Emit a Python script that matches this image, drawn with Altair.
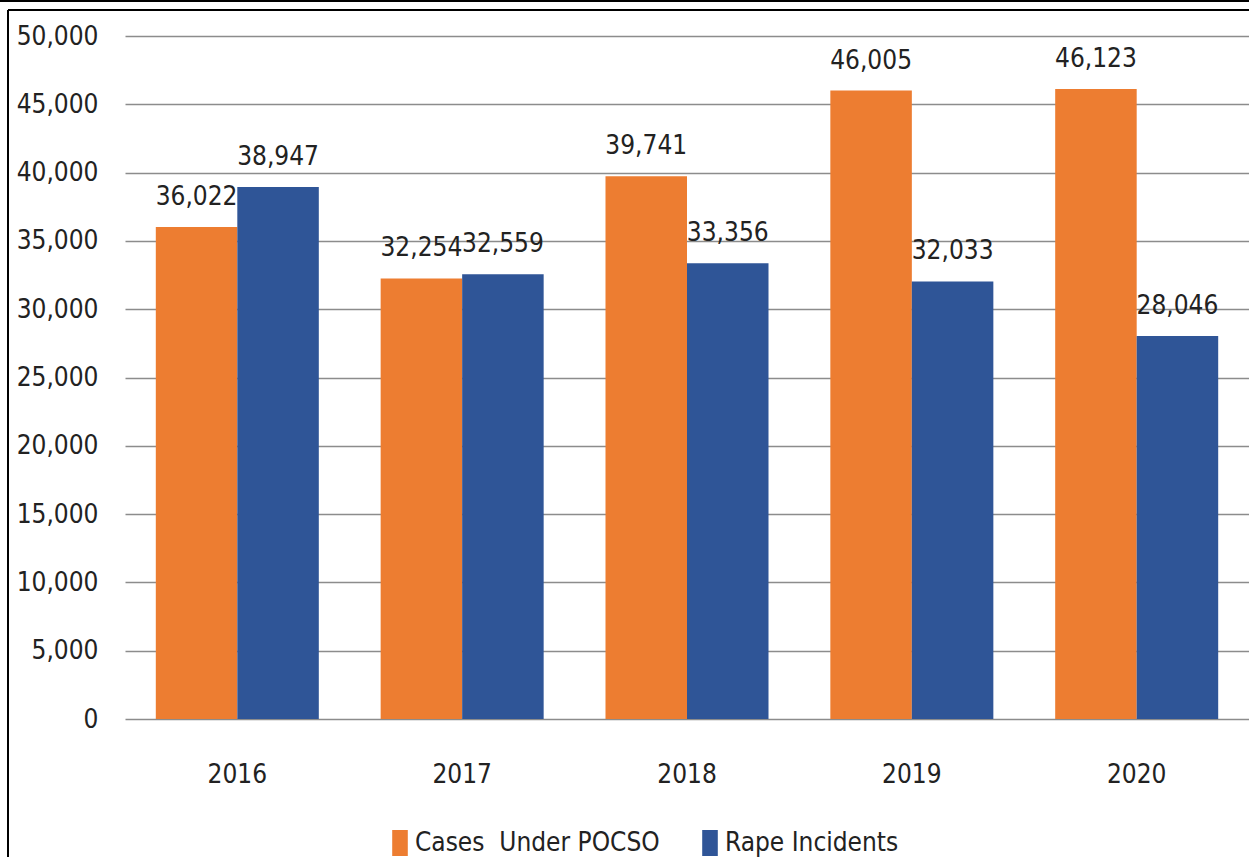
import altair as alt
import pandas as pd

years = ["2016", "2017", "2018", "2019", "2020"]
pocso = [36022, 32254, 39741, 46005, 46123]
rape = [38947, 32559, 33356, 32033, 28046]
series_names = ["Cases\u00a0 Under POCSO", "Rape Incidents"]
colors = ["#ED7D31", "#2F5597"]

rows = []
for i, y in enumerate(years):
    rows.append({"year": y, "series": series_names[0], "value": pocso[i]})
    rows.append({"year": y, "series": series_names[1], "value": rape[i]})
df = pd.DataFrame(rows)

FONT = "DejaVu Sans Condensed"
FS = 26

x_enc = alt.X("year:N", sort=years,
              scale=alt.Scale(paddingInner=0.275, paddingOuter=0.137),
              axis=alt.Axis(title=None, labelAngle=0, ticks=False, domain=False,
                            labelPadding=42, labelFontSize=FS, labelColor="#222222",
                            labelFont=FONT, grid=False))
y_enc = alt.Y("value:Q",
              scale=alt.Scale(domain=[0, 50000], nice=False),
              axis=alt.Axis(title=None, values=list(range(0, 50001, 5000)), format=",.0f",
                            ticks=False, domain=False, labelPadding=27,
                            labelFontSize=FS, labelColor="#222222", labelFont=FONT,
                            grid=True, gridColor="#8c8c8c", gridWidth=1.5))
xo = alt.XOffset("series:N", sort=series_names)

bars = alt.Chart(df).mark_bar().encode(
    x=x_enc, y=y_enc, xOffset=xo,
    color=alt.Color("series:N", sort=series_names,
                    scale=alt.Scale(domain=series_names, range=colors),
                    legend=alt.Legend(title=None, orient="none", direction="horizontal",
                                      legendX=262, legendY=794,
                                      symbolType="M-0.6,-1H0.6V1H-0.6Z",
                                      symbolSize=676, symbolStrokeWidth=0,
                                      labelFontSize=26, labelFont=FONT, labelColor="#222222",
                                      labelOffset=2, columnPadding=37, labelLimit=400)),
)

labels = alt.Chart(df).mark_text(dy=-22, baseline="alphabetic", fontSize=FS,
                                  font=FONT, color="#222222").encode(
    x=alt.X("year:N", sort=years), y="value:Q", xOffset=xo,
    text=alt.Text("value:Q", format=","),
)

frame_top = alt.Chart(df).mark_rule(color="#000000", strokeWidth=2).encode(
    x=alt.value(-117), x2=alt.value(1124), y=alt.value(-26))
frame_top2 = alt.Chart(df).mark_rule(color="#000000", strokeWidth=2).encode(
    x=alt.value(-125), x2=alt.value(1124), y=alt.value(-35))
frame_left = alt.Chart(df).mark_rule(color="#000000", strokeWidth=2).encode(
    x=alt.value(-117), y=alt.value(-26), y2=alt.value(830))

chart = alt.layer(bars, labels, frame_top, frame_top2, frame_left).properties(
    width=1124, height=683,
    autosize=alt.AutoSizeParams(type="none"),
    padding={"left": 125, "top": 36, "right": 0, "bottom": 138},
    background="#ffffff",
).configure_view(stroke=None)

chart.save("out.html", embed_options={"renderer": "svg", "actions": False})
